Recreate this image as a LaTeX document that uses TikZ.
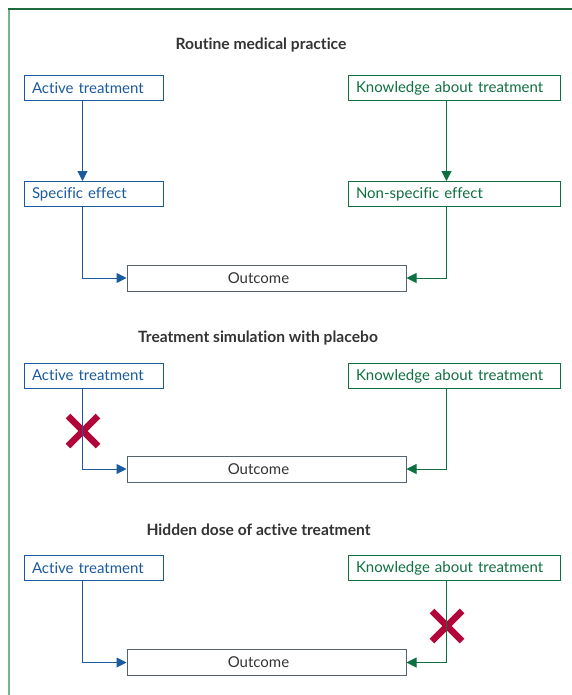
\documentclass[tikz,border=0pt]{standalone}
\usepackage{fontspec}
\setmainfont[Ligatures=NoCommon]{Lato}
\usetikzlibrary{arrows.meta,calc}
\definecolor{tblue}{HTML}{1A5A9E}
\definecolor{tgreen}{HTML}{0E7040}
\definecolor{tred}{HTML}{B0063A}
\definecolor{tgray}{HTML}{55636E}
\definecolor{ttext}{HTML}{333333}
\definecolor{framedark}{HTML}{1E6B3E}
\definecolor{framelight}{HTML}{72B68C}
\tikzset{
  box/.style={draw, line width=1pt, minimum height=25pt, inner xsep=8pt, inner ysep=0pt, font=\fontsize{15}{17}\selectfont, align=left},
  bluebox/.style={box, draw=tblue, text=tblue, text width=123pt},
  greenbox/.style={box, draw=tgreen, text=tgreen, text width=196pt},
  outbox/.style={draw=tgray, line width=1pt, minimum width=279pt, minimum height=26pt, inner sep=0pt, text=ttext, font=\fontsize{15}{17}\selectfont},
  title/.style={text=ttext, font=\fontsize{15.6}{18}\selectfont\bfseries},
  barrow/.style={draw=tblue, line width=1pt, -{Triangle[length=10pt,width=10pt]}, color=tblue},
  garrow/.style={draw=tgreen, line width=1pt, -{Triangle[length=10pt,width=10pt]}, color=tgreen},
  cross/.style={draw=tred, line width=6.5pt},
}
\newcommand{\outtext}{Outcome\hspace*{16pt}}
\begin{document}
\begin{tikzpicture}[x=1pt,y=-1pt]
\useasboundingbox (0,0) rectangle (572,695);
% frame
\draw[framelight, line width=2pt] (9,9) -- (9,700);
\draw[framedark, line width=1.4pt] (8,9) -- (580,9);

% ---------- section 1
\node[title] (t1) at (261,45) {Routine medical practice};
\node[bluebox] (a1) at (93.5,88) {Active treatment};
\node[greenbox] (k1) at (454,88) {Knowledge about treatment};
\node[bluebox] (s1) at (93.5,194) {Specific effect};
\node[greenbox] (n1) at (454,194) {Non-specific effect};
\node[outbox] (o1) at (266.5,278) {\outtext};
\draw[barrow] ([xshift=59pt]a1.south west) -- ([xshift=59pt]s1.north west);
\draw[garrow] ([xshift=99pt]k1.south west) -- ([xshift=99pt]n1.north west);
\draw[barrow] ([xshift=59pt]s1.south west) |- (o1.west);
\draw[garrow] ([xshift=99pt]n1.south west) |- (o1.east);

% ---------- section 2
\node[title] (t2) at (258,338) {Treatment simulation with placebo};
\node[bluebox] (a2) at (93.5,375.5) {Active treatment};
\node[greenbox] (k2) at (454,376) {Knowledge about treatment};
\node[outbox] (o2) at (266.5,469) {\outtext};
\coordinate (x2) at (83,431);
\draw[cross] ($(x2)+(-15,-15)$) -- ($(x2)+(15,15)$) ($(x2)+(-15,15)$) -- ($(x2)+(15,-15)$);
\draw[barrow] ([xshift=59pt]a2.south west) |- (o2.west);
\draw[garrow] ([xshift=99pt]k2.south west) |- (o2.east);

% ---------- section 3
\node[title] (t3) at (258.5,530) {Hidden dose of active treatment};
\node[bluebox] (a3) at (93.5,568) {Active treatment};
\node[greenbox] (k3) at (454,568) {Knowledge about treatment};
\node[outbox] (o3) at (266.5,662.5) {\outtext};
\coordinate (x3) at (447,626);
\draw[cross] ($(x3)+(-15,-15)$) -- ($(x3)+(15,15)$) ($(x3)+(-15,15)$) -- ($(x3)+(15,-15)$);
\draw[barrow] ([xshift=59pt]a3.south west) |- (o3.west);
\draw[garrow] ([xshift=99pt]k3.south west) |- (o3.east);
\end{tikzpicture}
\end{document}
